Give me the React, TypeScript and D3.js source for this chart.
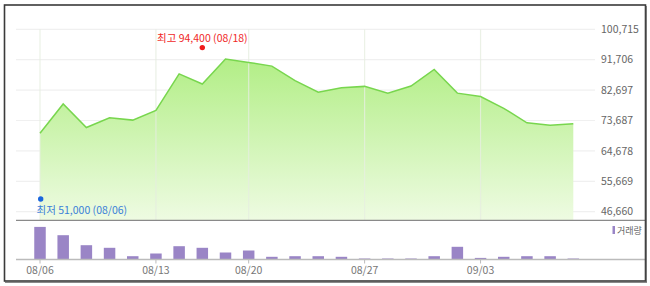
import React from "react";
import * as d3 from "d3";

const dates = ["08/06","08/07","08/08","08/09","08/10","08/13","08/14","08/16","08/17","08/20","08/21","08/22","08/23","08/24","08/27","08/28","08/29","08/30","08/31","09/03","09/04","09/05","09/06","09/07"];
const closes = [69900,78600,71600,74500,73800,76700,87500,84500,91900,90900,89800,85500,82100,83400,83800,81800,83900,88800,81800,80800,77300,73000,72300,72700];
const volumes = [3260,2430,1430,1170,330,600,1330,1170,700,900,270,330,330,270,100,100,100,330,1270,160,270,330,330,100];
const yTicks = [46660,55669,64678,73687,82697,91706,100715];
const xTickLabels = ["08/06","08/13","08/20","08/27","09/03"];
const high = { value: 94400, date: "08/18", index: 7, label: "최고" };
const low = { value: 51000, date: "08/06", index: 0, label: "최저" };
const legendLabel = "거래량";

const W = 650, H = 286;
const FONT = "'Noto Sans CJK KR', 'Noto Sans', sans-serif";

export default function App() {
  const x = d3.scaleLinear().domain([0, dates.length - 1]).range([40, 573.3]);
  const y = d3.scaleLinear().domain([yTicks[0], yTicks[yTicks.length - 1]]).range([211.7, 29.3]);
  const panelBottom = 220.3;
  const volBase = 259.5;
  const yv = d3.scaleLinear().domain([0, 3400]).range([volBase, volBase - 34]);
  const fmt = d3.format(",");

  const idx = closes.map((_, i) => i);
  const line = d3.line<number>().x(i => x(i)).y(i => y(closes[i]));
  const area = d3.area<number>().x(i => x(i)).y0(panelBottom).y1(i => y(closes[i]));
  const barW = 11.5;

  return (
    <div style={{ position: "fixed", left: 0, top: 0, width: W, height: H, background: "#fff" }}>
      <svg width={W} height={H} style={{ display: "block" }} fontFamily={FONT}>
        <defs>
          <linearGradient id="areaGrad" x1="0" y1="0" x2="0" y2="1">
            <stop offset="0%" stopColor="#b2ee86" />
            <stop offset="100%" stopColor="#eefbe2" />
          </linearGradient>
        </defs>
        <rect x={0} y={0} width={W} height={H} fill="#fff" />
        {/* horizontal grid */}
        {yTicks.map(t => (
          <line key={t} x1={16} x2={595} y1={y(t)} y2={y(t)} stroke="#f0f0f0" strokeWidth={1.2} />
        ))}
        {/* area */}
        <path d={area(idx) || ""} fill="url(#areaGrad)" />
        {/* vertical grid */}
        {xTickLabels.map(l => {
          const i = dates.indexOf(l);
          return <line key={l} x1={x(i)} x2={x(i)} y1={29.3} y2={panelBottom} stroke="#e6eee0" strokeOpacity={0.8} strokeWidth={1.2} />;
        })}
        <path d={line(idx) || ""} fill="none" stroke="#78d64e" strokeWidth={1.5} />
        {/* y labels */}
        {yTicks.map(t => (
          <text key={t} x={601} y={y(t)} dy="0.35em" fontSize={10.5} fill="#666">{fmt(t)}</text>
        ))}
        {/* high / low */}
        <circle cx={x(high.index)} cy={y(high.value) - 3} r={2.7} fill="#f01a1a" />
        <text x={x(high.index)} y={42} textAnchor="middle" fontSize={10.5} fill="#f02828">{`${high.label} ${fmt(high.value)} (${high.date})`}</text>
        <circle cx={x(low.index) + 0.7} cy={y(low.value) + 2} r={2.7} fill="#1a66dd" />
        <text x={36.5} y={213.5} fontSize={10.5} fill="#3a80d8">{`${low.label} ${fmt(low.value)} (${low.date})`}</text>
        {/* separator */}
        <line x1={16} x2={645} y1={panelBottom} y2={panelBottom} stroke="#8a8a8a" strokeWidth={1.3} />
        {/* volume bars */}
        {volumes.map((v, i) => (
          <rect key={i} x={x(i) - barW / 2} y={yv(v)} width={barW} height={volBase - yv(v)} fill="#9a85c6" />
        ))}
        <line x1={16} x2={645} y1={volBase} y2={volBase} stroke="#bbbbbb" strokeWidth={1.5} />
        {xTickLabels.map(l => {
          const i = dates.indexOf(l);
          return (
            <g key={l}>
              <line x1={x(i)} x2={x(i)} y1={volBase} y2={volBase + 4} stroke="#bbb" />
              <text x={x(i)} y={274} textAnchor="middle" fontSize={10.5} fill="#777">{l}</text>
            </g>
          );
        })}
        {/* legend */}
        <rect x={612.5} y={226} width={2.5} height={8} fill="#9a85c6" />
        <text x={617} y={233.5} fontSize={9} fill="#666">{legendLabel}</text>
        {/* border */}
        <rect x={4.5} y={5} width={641} height={276} fill="none" stroke="#3a3a3a" strokeWidth={1.6} />
        <line x1={646.2} x2={646.2} y1={6} y2={282} stroke="#555" strokeWidth={1} />
        <line x1={5} x2={647} y1={282.2} y2={282.2} stroke="#555" strokeWidth={1} />
      </svg>
    </div>
  );
}
